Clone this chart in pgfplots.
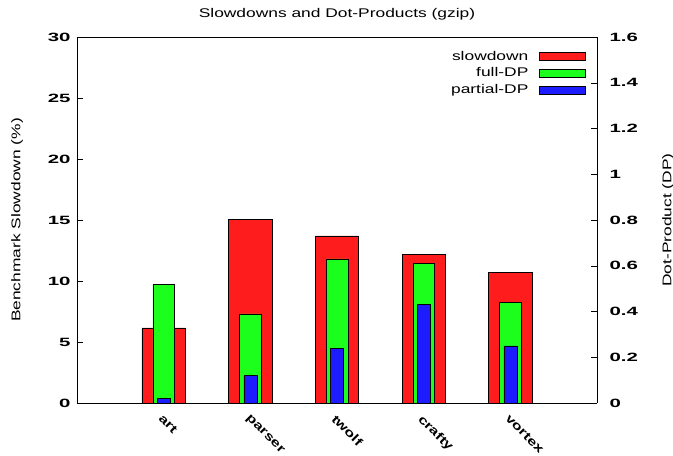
\documentclass[border=0pt]{standalone}
\usepackage{pgfplots}
\pgfplotsset{compat=1.18}
\usepackage{fontspec}
\setmainfont{Liberation Sans}[FakeStretch=1.38]
\newfontfamily\tickfont{Liberation Sans}[FakeStretch=1.7]
\newfontfamily\xtickfont{Liberation Sans}[FakeStretch=1.35]
\definecolor{gred}{RGB}{255,28,28}
\definecolor{ggreen}{RGB}{28,255,28}
\definecolor{gblue}{RGB}{28,28,255}
\begin{document}
\begin{tikzpicture}
\pgfplotsset{
  every axis/.append style={
    scale only axis, width=520pt, height=366pt,
    xmin=0, xmax=6,
    ymin=0,
    /pgf/number format/assume math mode=true,
    y tick label style={font=\fontsize{12}{14}\selectfont\tickfont\bfseries},
    label style={font=\fontsize{12.6}{15}\selectfont},
    major tick length=6pt,
    tick style={black, thin},
  },
}
\begin{axis}[
  ybar, bar width=0.5, bar shift=0pt,
  ymax=30, ytick={0,5,...,30},
  axis y line*=left,
  axis x line*=bottom,
  xtick={1,2,3,4,5},
  xticklabels={art,parser,twolf,crafty,vortex},
  x tick label style={font=\fontsize{12}{14}\selectfont\xtickfont\bfseries, rotate=-45, anchor=north west, xshift=0pt, yshift=0pt},
  xtick style={draw=none},
  y tick label style={xshift=-3pt},
  ytick align=inside,
  ylabel={Benchmark Slowdown (\%)},
  ylabel style={at={(axis description cs:0,0.5)}, anchor=center, yshift=60pt},
  title={Slowdowns and Dot-Products (gzip)},
  title style={font=\fontsize{12.6}{15}\selectfont, at={(axis description cs:0.5,1)}, anchor=center, yshift=17pt},
  axis line style={black, thick},
]
\coordinate (ll) at (rel axis cs:0,0);
\coordinate (ur) at (rel axis cs:1,1);
\addplot[fill=gred, draw=black] coordinates {(1,6.15) (2,15.08) (3,13.7) (4,12.2) (5,10.7)};
\draw[black, thick] (rel axis cs:0,1) -- (rel axis cs:1,1);
\end{axis}
\begin{axis}[
  ybar, bar shift=0pt,
  ymax=1.6, ytick={0,0.2,...,1.6},
  axis y line*=right,
  axis x line=none,
  ytick align=inside,
  y tick label style={xshift=9pt},
  ylabel={Dot-Product (DP)},
  ylabel style={at={(axis description cs:1,0.5)}, anchor=center, yshift=-71pt},
  axis line style={black, thick},
  legend style={at={(rel axis cs:1,1)}, anchor=north east, xshift=-8pt, yshift=-10pt,
    draw=none, fill=none, font=\fontsize{12.6}{15}\selectfont,
    row sep=2pt},
  legend cell align=right,
  legend plot pos=right,
  legend image code/.code={\path (0pt,0pt); \draw[#1, bar width=0pt, bar shift=0pt] (9pt,-4pt) rectangle (55pt,4pt);},
]
\addlegendimage{fill=gred, draw=black}
\addlegendentry{slowdown}
\addplot[fill=ggreen, draw=black, bar width=0.25] coordinates {(1,0.52) (2,0.39) (3,0.63) (4,0.61) (5,0.44)};
\addlegendentry{full-DP}
\addplot[fill=gblue, draw=black, bar width=0.15] coordinates {(1,0.02) (2,0.12) (3,0.24) (4,0.43) (5,0.25)};
\addlegendentry{partial-DP}
\end{axis}
\pgfresetboundingbox
\path ([xshift=-77pt,yshift=-53pt]ll) rectangle ([xshift=76pt,yshift=37pt]ur);
\end{tikzpicture}
\end{document}
